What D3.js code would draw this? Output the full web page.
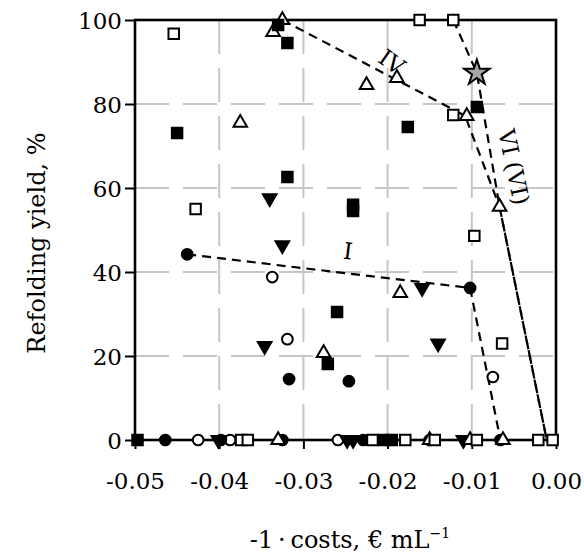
<!DOCTYPE html>
<html>
<head>
<meta charset="utf-8">
<script src="https://cdn.jsdelivr.net/npm/d3@7"></script>
<style>
body { margin: 0; background: #fff; }
text { font-family: "DejaVu Serif", "Liberation Serif", serif; fill: #000; }
</style>
</head>
<body>
<div id="chart"></div>
<script>
// tick values
xTicks = [-0.05, -0.04, -0.03, -0.02, -0.01, 0.00]
yTicks = [0, 20, 40, 60, 80, 100]

// data, [cost, yield]
openSquares = [[-0.0454,96.7],[-0.0162,100],[-0.0122,100],[-0.0122,77.4],[-0.0428,55],[-0.0097,48.6],[-0.0064,23],
  [-0.0374,0],[-0.0366,0],[-0.0218,0],[-0.0179,0],[-0.0144,0],[-0.0094,0],[-0.0021,0],[-0.0004,0]]
filledSquares = [[-0.0330,98.8],[-0.0319,94.5],[-0.0450,73.1],[-0.0319,62.6],[-0.0094,79.3],[-0.0176,74.5],[-0.0241,56],[-0.0241,54.5],
  [-0.0260,30.5],[-0.0271,18.1],[-0.0497,0],[-0.0205,0],[-0.0195,0]]
openTriangles = [[-0.0325,100],[-0.0336,97.1],[-0.0375,75.5],[-0.0225,84.5],[-0.0189,86.2],[-0.0106,77.1],[-0.0067,55.5],[-0.0185,35],
  [-0.0276,20.7],[-0.0330,0],[-0.0150,0],[-0.0102,0],[-0.0063,0]]
downTriangles = [[-0.0340,57.6],[-0.0325,46.4],[-0.0159,36.2],[-0.0140,23],[-0.0346,22.4],[-0.0401,0],[-0.0248,0],[-0.0241,0],[-0.0110,0]]
filledCircles = [[-0.0438,44.2],[-0.0102,36.2],[-0.0317,14.5],[-0.0246,14],[-0.0464,0],[-0.0398,0],[-0.0325,0],[-0.0229,0],[-0.0066,0]]
openCircles = [[-0.0337,38.8],[-0.0319,24],[-0.0075,15],[-0.0425,0],[-0.0387,0],[-0.0259,0],[-0.0150,0]]
starPoint = [[-0.0094,87.4]]

// dashed guide lines
lineI = [[-0.0438,44.2],[-0.0102,36.2],[-0.0066,0]]
lineIV = [[-0.0325,100],[-0.0108,77.2],[-0.0067,55.5],[-0.0011,0]]
lineVI = [[-0.0122,100],[-0.0094,87.4],[-0.0067,55.5],[-0.0011,0]]

lineLabels = [
  {text:"IV", x:-0.0195, y:90, angle:35},
  {text:"VI (VI)", x:-0.0050, y:65, angle:78},
  {text:"I", x:-0.0247, y:45, angle:7}
]

var W = 584, H = 555

var svg = d3.select("#chart").append("svg")
  .attr("width", W)
  .attr("height", H)

var x = d3.scaleLinear().domain([-0.05, 0]).range([135, 556])
var y = d3.scaleLinear().domain([0, 100]).range([440, 20])

// grid
svg.append("g").selectAll("line")
  .data(xTicks.slice(1, -1))
  .enter().append("line")
  .attr("x1", d => x(d)).attr("x2", d => x(d))
  .attr("y1", y(100)).attr("y2", y(0))
  .attr("stroke", "#c6c6c6").attr("stroke-width", 2)
  .attr("stroke-dasharray", "34,14")

svg.append("g").selectAll("line")
  .data(yTicks.slice(1, -1))
  .enter().append("line")
  .attr("x1", x(-0.05)).attr("x2", x(0))
  .attr("y1", d => y(d)).attr("y2", d => y(d))
  .attr("stroke", "#c6c6c6").attr("stroke-width", 2)
  .attr("stroke-dasharray", "34,14")

// axes
var xAxis = d3.axisBottom(x).tickValues(xTicks).tickSize(9).tickPadding(24)
  .tickFormat(d3.format(".2f"))
var yAxis = d3.axisLeft(y).tickValues(yTicks).tickSize(10).tickPadding(3)

var gx = svg.append("g").attr("transform", "translate(0," + y(0) + ")").call(xAxis)
var gy = svg.append("g").attr("transform", "translate(" + x(-0.05) + ",0)").call(yAxis)

;[gx, gy].forEach(function(g){
  g.select(".domain").remove()
  g.selectAll(".tick line").attr("stroke", "#000").attr("stroke-width", 2)
  g.selectAll(".tick text").style("font-family", "DejaVu Serif").style("font-size", "23px").attr("fill", "#000")
})
gx.selectAll(".tick text").text(d => d3.format(".2f")(d).replace("−", "-"))
gy.selectAll(".tick text").attr("dy", "0.36em")

// frame
svg.append("rect")
  .attr("x", x(-0.05)).attr("y", y(100))
  .attr("width", x(0) - x(-0.05)).attr("height", y(0) - y(100))
  .attr("fill", "none").attr("stroke", "#000").attr("stroke-width", 2.6)

// dashed lines
var line = d3.line().x(d => x(d[0])).y(d => y(d[1]))
;[lineI, lineIV, lineVI].forEach(function(pts){
  svg.append("path")
    .attr("d", line(pts))
    .attr("fill", "none").attr("stroke", "#000").attr("stroke-width", 2.2)
    .attr("stroke-dasharray", "9,6")
})

// markers
function drawSeries(data, type, size, fill, rot)
{
  svg.append("g").selectAll("path")
    .data(data)
    .enter().append("path")
    .attr("d", d3.symbol().type(type).size(size))
    .attr("transform", d => "translate(" + x(d[0]) + "," + y(d[1]) + ") rotate(" + rot + ")")
    .attr("fill", fill)
    .attr("stroke", "#000")
    .attr("stroke-width", 2)
}

drawSeries(openCircles, d3.symbolCircle, 90, "#fff", 0)
drawSeries(filledCircles, d3.symbolCircle, 90, "#000", 0)
drawSeries(downTriangles, d3.symbolTriangle, 80, "#000", 180)
drawSeries(openTriangles, d3.symbolTriangle, 80, "#fff", 0)
drawSeries(filledSquares, d3.symbolSquare, 110, "#000", 0)
drawSeries(openSquares, d3.symbolSquare, 110, "#fff", 0)
drawSeries(starPoint, d3.symbolStar, 200, "#a6a6a6", 0)

// line labels
svg.append("g").selectAll("text")
  .data(lineLabels)
  .enter().append("text")
  .attr("transform", d => "translate(" + x(d.x) + "," + y(d.y) + ") rotate(" + d.angle + ")")
  .attr("text-anchor", "middle")
  .attr("dy", "0.35em")
  .style("font-size", "23px")
  .text(d => d.text)

// axis titles
svg.append("text")
  .attr("transform", "translate(37," + 243 + ") rotate(-90)")
  .attr("text-anchor", "middle")
  .attr("dy", "0.35em")
  .style("font-size", "24px")
  .text("Refolding yield, %")

var xt = svg.append("text")
  .attr("x", 350).attr("y", 548)
  .attr("text-anchor", "middle")
  .style("font-size", "24px")
xt.append("tspan").text("-1\u2009\u00b7\u2009costs, \u20ac mL")
xt.append("tspan").attr("dy", -10).style("font-size", "14px").text("\u22121")
</script>
</body>
</html>
